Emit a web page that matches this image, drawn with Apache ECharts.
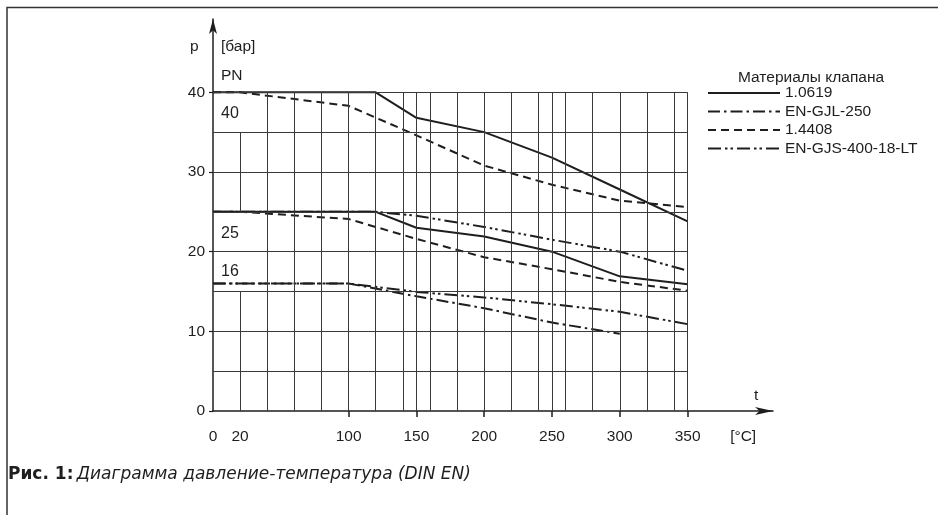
<!DOCTYPE html>
<html><head><meta charset="utf-8">
<script src="https://cdn.jsdelivr.net/npm/echarts@6/dist/echarts.min.js"></script>
<style>html,body{margin:0;padding:0;background:#fff}#c{width:938px;height:515px}</style>
</head><body><div id="c"></div>
<script>
// ---- data ----
const legendNames = ['1.0619', 'EN-GJL-250', '1.4408', 'EN-GJS-400-18-LT'];
const m10619_pn40 = [[0,40],[120,40],[150,36.8],[200,35],[250,31.8],[300,27.8],[350,23.8]];
const m10619_pn25 = [[0,25],[120,25],[150,23],[200,21.9],[250,20],[300,16.9],[350,15.9]];
const m14408_pn40 = [[0,40],[20,40],[100,38.3],[150,34.6],[200,30.8],[250,28.4],[300,26.4],[350,25.6]];
const m14408_pn25 = [[0,25],[20,25],[100,24.1],[150,21.6],[200,19.3],[250,17.8],[300,16.2],[350,15.1]];
const gjl250_pn16 = [[0,16],[100,16],[150,14.4],[200,12.9],[250,11.1],[300,9.7]];
const gjs400_pn25 = [[0,25],[120,25],[150,24.5],[200,23.1],[250,21.5],[300,20],[350,17.6]];
const gjs400_pn16 = [[0,16],[100,16],[150,14.95],[200,14.25],[250,13.4],[300,12.45],[350,10.9]];
const xLabelValues = [0,20,100,150,200,250,300,350];
const xTickValues = [100,150,200,250,300,350];
const yLabelValues = [0,10,20,30,40];
const gridT = [40,60,80,100,120,140,150,160,180,200,220,240,250,260,280,300,320,340,350];
const gridT20Segments = [[0,15],[25,35]];
const gridP = [5,10,15,20,25,30,35,40];
const pnLabels = ['40','25','16'];

// ---- styles ----
const INK = '#1e1e1e';
const FONT = '"Liberation Sans", Arial, sans-serif';
const CAPFONT = '"DejaVu Sans", sans-serif';
const dashStyles = {
  '1.0619': 'solid',
  'EN-GJL-250': [12,4,2.5,4],
  '1.4408': [8,5],
  'EN-GJS-400-18-LT': [13,4,2.5,3,2.5,4]
};
function ser(name, data){
  return {name, type:'line', data, symbol:'none', z:3, silent:true,
    lineStyle:{color:INK, width:2, type:dashStyles[name]}, itemStyle:{color:INK}};
}
const gridLines = [];
gridT.forEach(t => gridLines.push([{coord:[t,0]},{coord:[t,40]}]));
gridT20Segments.forEach(s => gridLines.push([{coord:[20,s[0]]},{coord:[20,s[1]]}]));
gridP.forEach(p => gridLines.push([{coord:[0,p]},{coord:[350,p]}]));

const chart = echarts.init(document.getElementById('c'));
chart.setOption({
  animation:false,
  textStyle:{fontFamily:FONT},
  grid:{left:213, right:165, top:19, bottom:104},
  xAxis:{type:'value', min:0, max:413,
    axisLine:{lineStyle:{color:INK, width:1.5}, symbol:['none','arrow'], symbolSize:[6,18]},
    axisTick:{show:true, customValues:xTickValues, length:6, lineStyle:{color:INK, width:1.5}},
    axisLabel:{customValues:xLabelValues.concat([391]), margin:18, fontSize:15.5, color:INK, fontFamily:FONT,
      formatter:v => v===391 ? '[°C]' : String(v)},
    splitLine:{show:false}},
  yAxis:{type:'value', min:0, max:49.2,
    axisLine:{show:true, lineStyle:{color:INK, width:1.5}, symbol:['none','arrow'], symbolSize:[6,15]},
    axisTick:{show:true, customValues:yLabelValues, length:4, lineStyle:{color:INK, width:1.2}},
    axisLabel:{customValues:yLabelValues, margin:8, fontSize:15.5, color:INK, fontFamily:FONT},
    splitLine:{show:false}},
  legend:{data:legendNames, orient:'vertical', left:702, top:80, itemWidth:72, itemHeight:14, itemGap:2.5,
    textStyle:{fontSize:15.5, color:INK, fontFamily:FONT}, selectedMode:false, itemStyle:{opacity:0}},
  title:{text:'Материалы клапана', left:733, top:65, textStyle:{fontSize:15.5, fontWeight:'normal', color:INK, fontFamily:FONT}},
  series:[
    {type:'line', data:[], silent:true, z:1, markLine:{silent:true, symbol:'none', animation:false,
      label:{show:false}, lineStyle:{color:'#3a3a3a', width:1, type:'solid'}, data:gridLines}},
    ser('1.0619', m10619_pn40), ser('1.0619', m10619_pn25),
    ser('EN-GJL-250', gjl250_pn16),
    ser('1.4408', m14408_pn40), ser('1.4408', m14408_pn25),
    ser('EN-GJS-400-18-LT', gjs400_pn25), ser('EN-GJS-400-18-LT', gjs400_pn16)
  ],
  graphic:[
    {type:'polyline', silent:true, shape:{points:[[7,515],[7,7.5],[938,7.5]]}, style:{stroke:'#333', lineWidth:1.5, fill:null}},
    {type:'text', style:{text:'p', x:190, y:47, verticalAlign:'middle', font:'15.5px '+FONT, fill:INK}},
    {type:'text', style:{text:'[бар]', x:221, y:47, verticalAlign:'middle', font:'15.5px '+FONT, fill:INK}},
    {type:'text', style:{text:'PN', x:221, y:76, verticalAlign:'middle', font:'15.5px '+FONT, fill:INK}},
    {type:'text', style:{text:pnLabels[0], x:221, y:114, verticalAlign:'middle', font:'16px '+FONT, fill:INK}},
    {type:'text', style:{text:pnLabels[1], x:221, y:234, verticalAlign:'middle', font:'16px '+FONT, fill:INK}},
    {type:'text', style:{text:pnLabels[2], x:221, y:272, verticalAlign:'middle', font:'16px '+FONT, fill:INK}},
    {type:'text', style:{text:'t', x:754, y:396, verticalAlign:'middle', font:'15.5px '+FONT, fill:INK}},
    {type:'text', style:{x:8, y:475, verticalAlign:'middle', fill:INK,
      text:'{b|Рис. 1:} {i|Диаграмма давление-температура (DIN EN)}',
      rich:{b:{fontWeight:'bold', fontSize:17, fontFamily:CAPFONT, fill:INK}, i:{fontStyle:'italic', fontSize:17, fontFamily:CAPFONT, fill:INK}}}}
  ]
});
</script></body></html>
